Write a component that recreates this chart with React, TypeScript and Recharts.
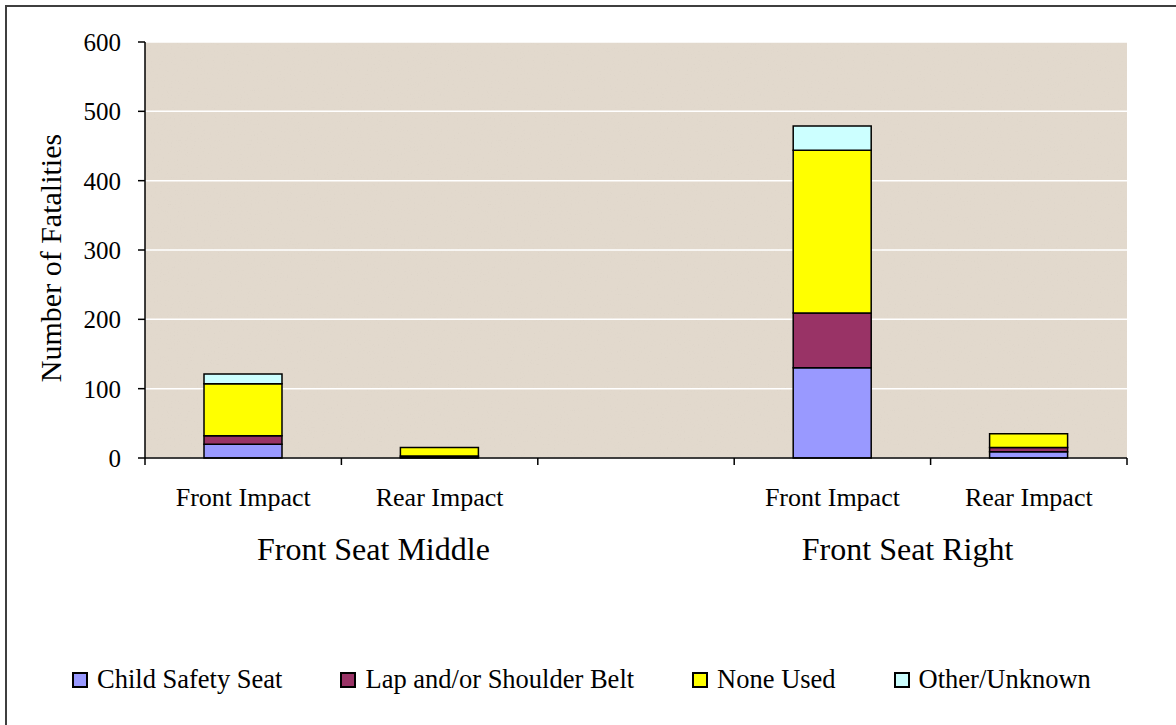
import { BarChart, Bar, XAxis, YAxis, CartesianGrid, Label } from "recharts";

const categories = ["Front Impact", "Rear Impact", "", "Front Impact", "Rear Impact"];
const groups = ["Front Seat Middle", "Front Seat Middle", "", "Front Seat Right", "Front Seat Right"];

const childSeat = [20, 1, 0, 130, 9];
const lapBelt = [12, 2, 0, 79, 6];
const noneUsed = [75, 12, 0, 235, 20];
const otherUnknown = [14, 0, 0, 35, 0];

const yTicks = [0, 100, 200, 300, 400, 500, 600];

const series = [
  { key: "child", name: "Child Safety Seat", color: "#9999ff", values: childSeat },
  { key: "lap", name: "Lap and/or Shoulder Belt", color: "#993366", values: lapBelt },
  { key: "none", name: "None Used", color: "#ffff00", values: noneUsed },
  { key: "other", name: "Other/Unknown", color: "#ccffff", values: otherUnknown },
];

const data = categories.map((impact, i) => {
  const row: Record<string, string | number> = { impact, group: groups[i] };
  for (const s of series) row[s.key] = s.values[i];
  return row;
});

const FONT = "'Liberation Serif', 'Times New Roman', serif";
const W = 1176;
const H = 725;
const MARGIN = { top: 42, right: 49, left: 0, bottom: 0 };
const Y_AXIS_W = 145;
const PLOT_W = W - MARGIN.right - Y_AXIS_W;
const SLOT = PLOT_W / categories.length;
// the original's group titles sit a little off their span centre
const GROUP_NUDGE: Record<string, number> = { "Front Seat Middle": 32, "Front Seat Right": -23 };

// category label under each bar, tick marks on the slot boundaries,
// and the seat-position label under its run of categories
function CategoryTick(props: any) {
  const { x, y, payload, index } = props;
  const last = index === categories.length - 1;
  const g = groups[index];
  let groupLabel = null;
  if (g && (index === 0 || groups[index - 1] !== g)) {
    let run = 1;
    while (groups[index + run] === g) run++;
    groupLabel = (
      <text x={x + ((run - 1) * SLOT) / 2 + (GROUP_NUDGE[g] ?? 0)} y={y + 102} textAnchor="middle" fontSize={32} fill="#000" fontFamily={FONT}>
        {g}
      </text>
    );
  }
  return (
    <g>
      <line x1={x - SLOT / 2} x2={x - SLOT / 2} y1={y} y2={y + 7} stroke="#000" strokeWidth={1.5} />
      {last && <line x1={x + SLOT / 2} x2={x + SLOT / 2} y1={y} y2={y + 7} stroke="#000" strokeWidth={1.5} />}
      <text x={x} y={y + 48} textAnchor="middle" fontSize={26} fill="#000" fontFamily={FONT}>
        {payload.value}
      </text>
      {groupLabel}
    </g>
  );
}

function YTitle(props: any) {
  const { viewBox } = props;
  const cx = viewBox.x + 50;
  const cy = viewBox.y + viewBox.height / 2 + 8;
  return (
    <text x={cx} y={cy} transform={`rotate(-90 ${cx} ${cy})`} textAnchor="middle" dominantBaseline="central" fontSize={30} fill="#000" fontFamily={FONT}>
      Number of Fatalities
    </text>
  );
}

export default function App() {
  return (
    <div style={{ position: "absolute", left: 0, top: 0, width: W, height: H, overflow: "hidden", background: "#fff" }}>
      <svg width={0} height={0} style={{ position: "absolute" }}>
        <defs>
          <filter id="speckle" x="0" y="0" width="100%" height="100%">
            <feTurbulence type="fractalNoise" baseFrequency="0.7" numOctaves={2} seed={4} />
            <feColorMatrix type="matrix" values="0 0 0 0 0.62  0 0 0 0 0.56  0 0 0 0 0.5  1.4 0 0 0 -0.85" />
          </filter>
          <pattern id="paper" patternUnits="userSpaceOnUse" width={320} height={320}>
            <rect width={320} height={320} fill="#e2d9cd" />
            <rect width={320} height={320} filter="url(#speckle)" opacity={0.5} />
          </pattern>
        </defs>
      </svg>
      <div style={{ position: "absolute", left: 5, top: 5, width: W + 20, height: H + 20, border: "2px solid #3f3f3f" }} />
      <div style={{ position: "absolute", left: 0, top: 0 }}>
        <BarChart width={W} height={H} data={data} margin={MARGIN} barSize={78}>
          <CartesianGrid horizontal vertical={false} stroke="#ffffff" strokeWidth={1.5} fill="url(#paper)" />
          <XAxis
            dataKey="impact"
            height={H - 458}
            interval={0}
            tickLine={false}
            tickSize={0}
            tickMargin={0}
            axisLine={{ stroke: "#000", strokeWidth: 1.5 }}
            tick={<CategoryTick />}
          />
          <XAxis xAxisId="top" dataKey="impact" orientation="top" height={0} tick={false} tickLine={false} axisLine={{ stroke: "#808080", strokeWidth: 2 }} />
          <YAxis
            width={Y_AXIS_W}
            domain={[0, 600]}
            ticks={yTicks}
            interval={0}
            tickSize={7}
            tickMargin={17}
            tickLine={{ stroke: "#000", strokeWidth: 1.5 }}
            axisLine={{ stroke: "#000", strokeWidth: 1.5 }}
            tick={{ fontSize: 25, fill: "#000", fontFamily: FONT }}
          >
            <Label content={<YTitle />} />
          </YAxis>
          <YAxis yAxisId="right" orientation="right" width={0} tick={false} tickLine={false} axisLine={{ stroke: "#808080", strokeWidth: 2 }} />
          {series.map((s) => (
            <Bar key={s.key} dataKey={s.key} name={s.name} stackId="a" fill={s.color} stroke="#000" strokeWidth={1.5} isAnimationActive={false} />
          ))}
        </BarChart>
      </div>
      <div style={{ position: "absolute", left: 72, top: 664, display: "flex", gap: 58, fontFamily: FONT, fontSize: 26.5, color: "#000", whiteSpace: "nowrap" }}>
        {series.map((s) => (
          <div key={s.key} style={{ display: "flex", alignItems: "center" }}>
            <span style={{ width: 12, height: 12, border: "2px solid #000", background: s.color, marginRight: 9, display: "inline-block" }} />
            <span>{s.name}</span>
          </div>
        ))}
      </div>
    </div>
  );
}
